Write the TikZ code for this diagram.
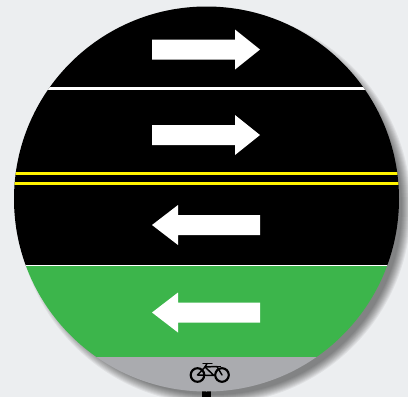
\documentclass[tikz,border=0pt]{standalone}
\usepackage{tikz}
\usetikzlibrary{arrows.meta, positioning, calc}
\definecolor{fond}{RGB}{236,238,240}
\definecolor{piste}{RGB}{60,181,75}
\definecolor{trottoir}{RGB}{170,171,175}
\definecolor{jaune}{RGB}{255,242,0}
\tikzset{
  fleche/.style={fill=white, draw=none},
  velo/.style={black, line width=1.1pt, line cap=round, line join=round},
  roue/.style={black, line width=1.6pt}
}
\begin{document}
\begin{tikzpicture}[x=0.75pt, y=-0.75pt]

    % Fond
    \fill[fond] (0,0) rectangle (408,397);
    \useasboundingbox (0,0) rectangle (408,397);

    % Ombre portee
    \clip (0,0) rectangle (408,397);
    \foreach \r in {197,196,...,188} {
      \fill[black, opacity=0.055] (214,207) circle (\r);
    }

    % Poteau
    \fill[black] (202,390) rectangle (211,397);

    % Chaussee
    \begin{scope}
      \clip (206.5,199) circle (192.5);
      \fill[black] (0,0) rectangle (408,266);
      \fill[piste] (0,266) rectangle (408,357);
      \fill[trottoir] (0,357) rectangle (408,397);

      % Lignes
      \fill[white] (0,87) rectangle (408,89.5);
      \fill[white] (0,264.5) rectangle (408,266);
      \foreach \y in {173.5,183} {
        \fill[jaune] (0,\y-1.5) rectangle (408,\y+1.5);
      }
    \end{scope}

    % Fleches vers la droite
    \foreach \y in {49.5,135} {
      \fill[fleche] (152,\y-10) -- (235,\y-10) -- (235,\y-20) -- (260,\y)
        -- (235,\y+20) -- (235,\y+10) -- (152,\y+10) -- cycle;
    }
    % Fleches vers la gauche
    \foreach \y in {225,312.5} {
      \fill[fleche] (260,\y-10) -- (178,\y-10) -- (178,\y-20) -- (152,\y)
        -- (178,\y+20) -- (178,\y+10) -- (260,\y+10) -- cycle;
    }

    % Velo
    \draw[roue] (197.5,375) circle (6.8);
    \draw[roue] (222,375) circle (6.8);
    \draw[velo] (197.5,375) -- (205,367) -- (214,375.5) -- (197.5,375);
    \draw[velo] (205,367) -- (207,363.5);
    \draw[velo] (203,363.5) -- (212,363.5);
    \draw[velo] (222,375) -- (217,366.5) -- (205,367);
    \draw[velo] (213,366.5) -- (220.5,366.5);

  \end{tikzpicture}
\end{document}
